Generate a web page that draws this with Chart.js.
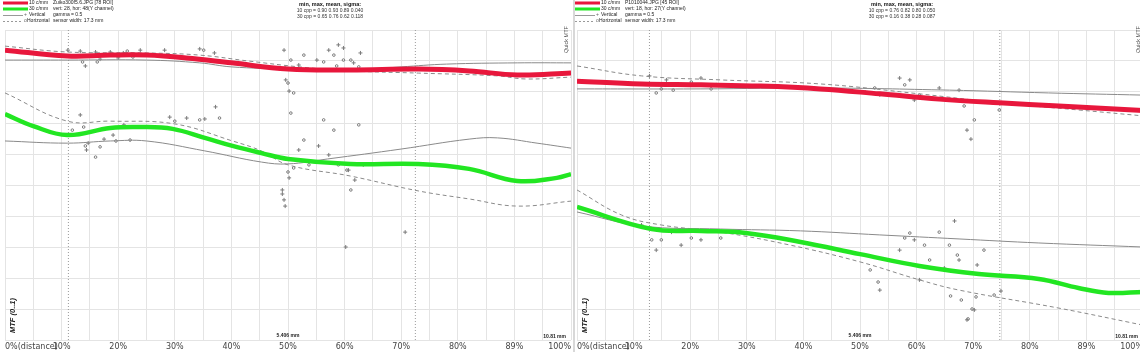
<!DOCTYPE html>
<html>
<head>
<meta charset="utf-8">
<script src="https://cdn.jsdelivr.net/npm/chart.js"></script>
<style>
  body { margin: 0; width: 1140px; height: 352px; overflow: hidden; background: #fff; position: relative; }
  canvas { position: absolute; top: 0; }
  #left-chart { left: 0; }
  #right-chart { left: 572px; }
  .sep { position: absolute; left: 573px; top: 0; width: 2px; height: 352px; background: #d8d8d8; }
</style>
</head>
<body>
<canvas id="left-chart" width="576" height="352"></canvas>
<canvas id="right-chart" width="576" height="352"></canvas>
<div class="sep"></div>
<script>
// x in % of distance, y = MTF (0..1)
const tickLabels = ["0%(distance)", "10%", "20%", "30%", "40%", "50%", "60%", "70%", "80%", "89%", "100%"];
const legendLabels = ["10 c/mm", "30 c/mm", "Vertical", "Horizontal"];

const leftInfo = ["Zuiko300f5.6.JPG [78 ROI]", "vert: 28, hor: 48(Y channel)", "gamma = 0.5", "sensor width: 17.3 mm"];
const leftStats = ["10 cpp = 0.90 0.93 0.89 0.040", "30 cpp = 0.65 0.76 0.62 0.118"];
const rightInfo = ["P1010044.JPG [45 ROI]", "vert: 18, hor: 27(Y channel)", "gamma = 0.5", "sensor width: 17.3 mm"];
const rightStats = ["10 cpp = 0.76 0.82 0.80 0.050", "30 cpp = 0.16 0.38 0.28 0.087"];

const leftMtf10 = [[0,0.935],[11,0.916],[18.6,0.919],[25,0.919],[32,0.91],[40,0.894],[50,0.874],[61,0.871],[73,0.874],[82,0.868],[90.5,0.855],[100,0.861]];
const leftMtf30 = [[0,0.729],[5,0.69],[11,0.661],[18.6,0.684],[24,0.687],[29.6,0.681],[35.3,0.652],[40.2,0.626],[45.3,0.603],[50,0.584],[61,0.568],[73,0.568],[82,0.552],[90.5,0.513],[97.5,0.523],[100,0.535]];
const leftVert10 = [[0,0.903],[11,0.903],[25,0.903],[34.4,0.894],[40,0.881],[50,0.874],[59,0.868],[70,0.881],[78,0.89],[90.5,0.894],[100,0.894]];
const leftHorz10 = [[0,0.948],[11,0.929],[25,0.926],[34.4,0.919],[43,0.9],[52,0.881],[61,0.868],[73,0.861],[87,0.852],[92,0.842],[100,0.848]];
const leftVert30 = [[0,0.642],[11,0.635],[18.6,0.642],[25,0.642],[35.3,0.61],[45.3,0.574],[50,0.568],[57,0.584],[70,0.616],[82,0.648],[87,0.652],[94,0.635],[100,0.619]];
const leftHorz30 = [[0,0.797],[11,0.706],[18.6,0.706],[30,0.697],[40.2,0.642],[45.3,0.61],[50,0.565],[61,0.529],[73,0.481],[82,0.455],[90.5,0.432],[100,0.448]];
const leftVertPts = [[11.1,0.935],[13.3,0.932],[14.2,0.884],[16,0.929],[16.8,0.906],[18.6,0.929],[20,0.91],[20.9,0.926],[23.9,0.935],[28.2,0.935],[34.4,0.939],[37,0.926],[49.3,0.935],[49.6,0.839],[50.2,0.803],[51.9,0.887],[53.7,0.871],[55.1,0.903],[57.2,0.935],[58.9,0.952],[59.8,0.942],[60.7,0.871],[61.6,0.894],[62.8,0.926],
  [13.3,0.726],[14.4,0.613],[14.7,0.635],[17.5,0.648],[19.1,0.661],[21,0.694],[29.1,0.719],[32.1,0.716],[35.3,0.713],[37.2,0.752],[49,0.484],[49,0.471],[49.3,0.452],[49.5,0.432],[50.2,0.523],[51.9,0.613],[55.4,0.626],[57.2,0.597],[60.2,0.3],[60.7,0.548],[61.8,0.516],[63.3,0.565],[70.7,0.348]];
const leftHorzPts = [[13.7,0.897],[16.3,0.897],[19.1,0.919],[21.6,0.932],[22.6,0.913],[35.1,0.935],[49.5,0.877],[50,0.829],[50.5,0.903],[51,0.797],[52.8,0.919],[56.3,0.897],[58.1,0.919],[58.6,0.884],[59.8,0.903],[61.1,0.903],[62.5,0.881],
  [11.9,0.677],[13.9,0.687],[14.2,0.626],[16,0.59],[16.8,0.623],[19.6,0.642],[22.1,0.645],[30,0.706],[34.4,0.71],[37.9,0.716],[50,0.542],[50.5,0.732],[51,0.555],[52.8,0.645],[53.7,0.565],[56.3,0.71],[58.1,0.677],[58.9,0.565],[60.4,0.548],[61.1,0.484],[62.5,0.694]];
const leftMarkers = [11.2, 72.5];

const rightMtf10 = [[0,0.835],[11.4,0.826],[21.9,0.823],[32.5,0.819],[43,0.81],[53.5,0.794],[64,0.777],[74.6,0.765],[85.1,0.755],[100,0.74]];
const rightMtf30 = [[0,0.429],[13.2,0.358],[21.9,0.352],[29.8,0.345],[39.5,0.316],[50,0.277],[60.5,0.239],[71,0.213],[81.6,0.197],[88.6,0.168],[93.9,0.152],[100,0.155]];
const rightVert10 = [[0,0.81],[21.9,0.81],[43,0.813],[65.8,0.806],[83.3,0.797],[100,0.79]];
const rightHorz10 = [[0,0.884],[11.4,0.852],[25.4,0.839],[43,0.826],[60.5,0.794],[74.6,0.765],[88.6,0.742],[100,0.723]];
const rightVert30 = [[0,0.413],[11.4,0.368],[25.4,0.358],[39.5,0.352],[53.5,0.339],[67.5,0.326],[81.6,0.313],[100,0.3]];
const rightHorz30 = [[0,0.484],[7.9,0.403],[14.9,0.371],[25.4,0.348],[37.7,0.306],[50,0.252],[60.5,0.194],[67.5,0.161],[85.1,0.103],[100,0.048]];
const rightVertPts = [[12.8,0.852],[15.8,0.839],[18.4,0.823],[21.9,0.845],[24.6,0.823],[50.9,0.8],[53.5,0.791],[57,0.845],[58.8,0.839],[59.6,0.774],[64,0.813],[67.5,0.806],[68.9,0.677],[69.6,0.648],
  [11.4,0.371],[14,0.29],[16.7,0.348],[18.4,0.306],[21.9,0.323],[53.5,0.161],[57,0.29],[59.6,0.323],[60.5,0.194],[64.9,0.232],[66.7,0.384],[67.5,0.258],[68.9,0.065],[70.2,0.097],[70.7,0.242],[74.9,0.158]];
const rightHorzPts = [[14,0.797],[14.9,0.81],[17,0.806],[20.2,0.832],[23.7,0.81],[52.6,0.813],[57.9,0.823],[60.5,0.79],[62.3,0.781],[68.4,0.755],[70.2,0.71],[74.6,0.742],
  [13.2,0.323],[14.9,0.323],[20.2,0.329],[25.4,0.329],[51.8,0.226],[53.2,0.187],[57.9,0.329],[58.8,0.345],[61.4,0.306],[62.3,0.258],[64,0.348],[65.8,0.306],[66,0.142],[67.2,0.274],[67.9,0.129],[69.1,0.068],[69.8,0.1],[70.5,0.139],[71.9,0.29],[73.7,0.145]];
const rightMarkers = [12.8, 74.7];

const RED = "#e8173c";
const GREEN = "#22e622";
const FONT = '"Liberation Sans", Arial, sans-serif';

function toPoints(pairs) {
  return pairs.map(([x, y]) => ({ x, y }));
}

function thickLine(pairs, color, width) {
  return { data: toPoints(pairs), borderColor: color, borderWidth: width, pointRadius: 0, tension: 0.4, fill: false };
}

function thinLine(pairs, dash) {
  return { data: toPoints(pairs), borderColor: "#8a8a8a", borderWidth: 1, borderDash: dash, pointRadius: 0, tension: 0.4, fill: false };
}

function points(pairs, style, radius) {
  return { data: toPoints(pairs), showLine: false, pointStyle: style, pointRadius: radius, pointBorderColor: "#7a7a7a", pointBackgroundColor: "rgba(0,0,0,0)", pointBorderWidth: 1 };
}

function markerLine(x) {
  return { data: [{ x, y: 0 }, { x, y: 1 }], borderColor: "#9a9a9a", borderWidth: 1, borderDash: [1, 2], pointRadius: 0 };
}

// header legend, stats block and the small notes inside the plot
const notesPlugin = {
  id: "notes",
  afterDraw(chart, args, opts) {
    const { ctx, chartArea, scales } = chart;
    const rows = [3, 9, 15, 21];
    ctx.save();
    ctx.textBaseline = "middle";

    // legend swatches
    ctx.fillStyle = RED;
    ctx.fillRect(3, rows[0] - 1.5, 25, 3);
    ctx.fillStyle = GREEN;
    ctx.fillRect(3, rows[1] - 1.5, 25, 3);
    ctx.strokeStyle = "#999";
    ctx.lineWidth = 1;
    ctx.beginPath();
    ctx.moveTo(3, rows[2] + 0.5);
    ctx.lineTo(23, rows[2] + 0.5);
    ctx.stroke();
    ctx.setLineDash([2, 2]);
    ctx.beginPath();
    ctx.moveTo(3, rows[3] + 0.5);
    ctx.lineTo(23, rows[3] + 0.5);
    ctx.stroke();
    ctx.setLineDash([]);

    ctx.font = "5px " + FONT;
    ctx.fillStyle = "#666";
    ctx.fillText("+", 24, rows[2]);
    ctx.fillText("o", 24, rows[3]);
    ctx.fillStyle = "#222";
    legendLabels.forEach((t, i) => {
      ctx.fillText(t, i === 3 ? 27 : 29, rows[i]);
      ctx.fillText(opts.info[i], 53, rows[i]);
    });

    // stats block
    ctx.textAlign = "center";
    ctx.fillStyle = "#111";
    ctx.font = "bold 5.5px " + FONT;
    ctx.fillText("min, max, mean, sigma:", 330, 4);
    ctx.fillStyle = "#333";
    ctx.font = "5px " + FONT;
    ctx.fillText(opts.stats[0], 330, 11);
    ctx.fillText(opts.stats[1], 330, 17);

    // y title
    ctx.save();
    ctx.fillStyle = "#222";
    ctx.font = "bold italic 7.5px " + FONT;
    ctx.translate(chartArea.left + 8, chartArea.bottom - 7);
    ctx.rotate(-Math.PI / 2);
    ctx.textAlign = "left";
    ctx.fillText("MTF (0..1)", 0, 0);
    ctx.restore();

    ctx.save();
    ctx.fillStyle = "#555";
    ctx.font = "5.5px " + FONT;
    ctx.translate(chartArea.right - 5, chartArea.top + 23);
    ctx.rotate(-Math.PI / 2);
    ctx.textAlign = "left";
    ctx.fillText("Quick MTF", 0, 0);
    ctx.restore();

    ctx.fillStyle = "#222";
    ctx.font = "bold 5px " + FONT;
    ctx.textAlign = "center";
    ctx.fillText("5.406 mm", scales.x.getPixelForValue(50), chartArea.bottom - 4);
    ctx.textAlign = "right";
    ctx.fillText("10.81 mm", chartArea.right - 5, chartArea.bottom - 3);
    ctx.restore();
  },
};

function makeChart(canvasId, s) {
  const datasets = [
    thickLine(s.mtf10, RED, 5),
    thickLine(s.mtf30, GREEN, 4.5),
    thinLine(s.vert10, []),
    thinLine(s.horz10, [4, 3]),
    thinLine(s.vert30, []),
    thinLine(s.horz30, [4, 3]),
    points(s.vertPts, "cross", 2),
    points(s.horzPts, "circle", 1.3),
    ...s.markers.map(markerLine),
  ];
  return new Chart(document.getElementById(canvasId), {
    type: "line",
    data: { datasets },
    plugins: [notesPlugin],
    options: {
      responsive: false,
      animation: false,
      devicePixelRatio: 1,
      layout: { padding: { left: 3, right: 3, top: 30, bottom: 0 } },
      plugins: {
        legend: { display: false },
        tooltip: { enabled: false },
        notes: { info: s.info, stats: s.stats },
      },
      scales: {
        x: {
          type: "linear",
          min: 0,
          max: 100,
          afterFit(scale) { scale.height = 12; },
          grid: { color: "#e4e4e4", drawTicks: false },
          border: { display: false },
          ticks: {
            stepSize: 5,
            autoSkip: false,
            maxRotation: 0,
            align: "inner",
            padding: 2,
            color: "#444",
            font: { size: 8, family: '"DejaVu Sans", sans-serif' },
            callback: (v) => (v % 10 === 0 ? tickLabels[v / 10] : ""),
          },
        },
        y: {
          min: 0,
          max: 1,
          afterFit(scale) { scale.width = 0; },
          grid: { color: "#e4e4e4", drawTicks: false },
          border: { display: false },
          ticks: { display: false, stepSize: 0.1 },
        },
      },
    },
  });
}

makeChart("left-chart", {
  mtf10: leftMtf10, mtf30: leftMtf30, vert10: leftVert10, horz10: leftHorz10,
  vert30: leftVert30, horz30: leftHorz30, vertPts: leftVertPts, horzPts: leftHorzPts,
  markers: leftMarkers, info: leftInfo, stats: leftStats,
});
makeChart("right-chart", {
  mtf10: rightMtf10, mtf30: rightMtf30, vert10: rightVert10, horz10: rightHorz10,
  vert30: rightVert30, horz30: rightHorz30, vertPts: rightVertPts, horzPts: rightHorzPts,
  markers: rightMarkers, info: rightInfo, stats: rightStats,
});
</script>
</body>
</html>
